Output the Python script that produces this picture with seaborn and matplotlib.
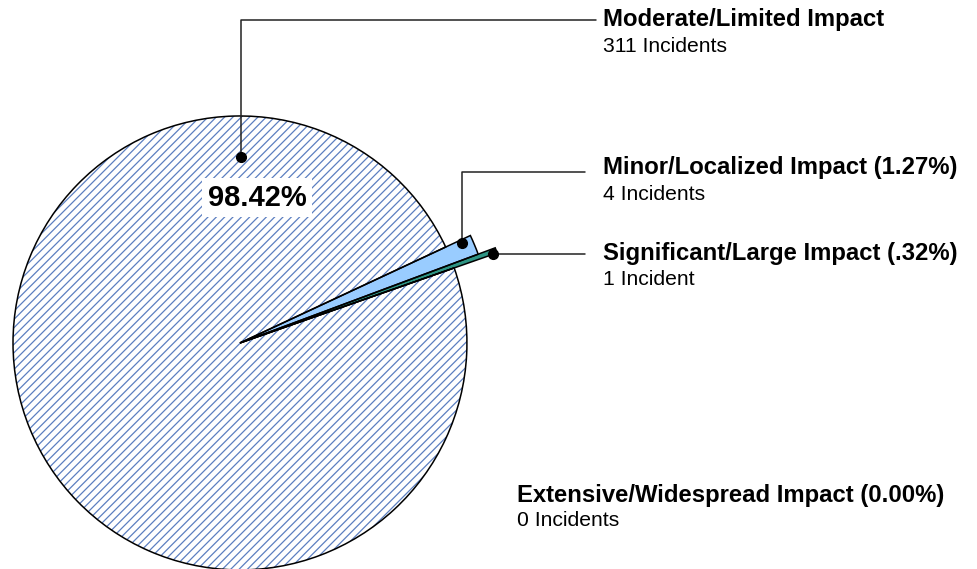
import matplotlib
matplotlib.use("Agg")
import matplotlib.pyplot as plt
import seaborn as sns

# data, in the order the slices are drawn (counter-clockwise from startangle)
categories = ["Significant/Large Impact", "Minor/Localized Impact",
              "Moderate/Limited Impact", "Extensive/Widespread Impact"]
incidents = [1, 4, 311, 0]
pct_labels = ["(.32%)", "(1.27%)", "", "(0.00%)"]
count_labels = ["1 Incident", "4 Incidents", "311 Incidents", "0 Incidents"]
main_pct = "98.42%"

sns.set_theme(style="white")
plt.rcParams["font.family"] = ["Liberation Sans", "DejaVu Sans"]
plt.rcParams["text.color"] = "black"
plt.rcParams["hatch.linewidth"] = 0.9

fig = plt.figure(figsize=(9.77, 5.69), dpi=100)
ax = fig.add_axes([0, 0, 1, 1])

face = ["#2e9483", "#99ccff", "white", "white"]
radii = [1.2, 1.12, 1.0, 1.0]

# hatched layer
wedges, _ = ax.pie(incidents, startangle=19.3, counterclock=True, colors=face,
                   wedgeprops=dict(linewidth=0))
for w, r, c in zip(wedges, radii, categories):
    w.set_radius(r)
    if c.startswith("Moderate"):
        w.set_hatch("////")
        w.set_edgecolor("#5c7fc0")
        w.set_linewidth(0)
# outline layer
outl, _ = ax.pie(incidents, startangle=19.3, counterclock=True,
                 colors=["none"] * 4,
                 wedgeprops=dict(linewidth=1.1, edgecolor="black"))
for w, r in zip(outl, radii):
    w.set_radius(r)
    w.set_facecolor("none")

ax.set_aspect("equal")
ax.set_xlim(-1.057, 3.247)
ax.set_ylim(-0.996, 1.511)
ax.axis("off")

lc = "#222222"
# Moderate leader
ax.plot([0.004, 0.004, 1.57], [0.819, 1.423, 1.423], color=lc, lw=1.1)
ax.plot(0.004, 0.819, "o", color="black", ms=7)
# Minor leader
ax.plot([0.978, 0.978, 1.52], [0.441, 0.753, 0.753], color=lc, lw=1.1)
ax.plot(0.978, 0.441, "o", color="black", ms=7)
# Significant leader
ax.plot([1.115, 1.52], [0.392, 0.392], color=lc, lw=1.1)
ax.plot(1.115, 0.392, "o", color="black", ms=7)

ax.text(0.075, 0.639, main_pct, fontsize=21, fontweight="bold", ha="center",
        va="center", bbox=dict(facecolor="white", edgecolor="none", pad=4))

label_pos = {
    "Moderate/Limited Impact": (1.599, 1.423, 1.306),
    "Minor/Localized Impact": (1.599, 0.771, 0.652),
    "Significant/Large Impact": (1.599, 0.396, 0.278),
    "Extensive/Widespread Impact": (1.220, -0.670, -0.784),
}
for c, p, n in zip(categories, pct_labels, count_labels):
    x, y1, y2 = label_pos[c]
    title = c + (" " + p if p else "")
    ax.text(x, y1, title, fontsize=17.2, fontweight="bold", ha="left", va="center")
    ax.text(x, y2, n, fontsize=15.2, ha="left", va="center")

fig.savefig("out.png", dpi=100)
